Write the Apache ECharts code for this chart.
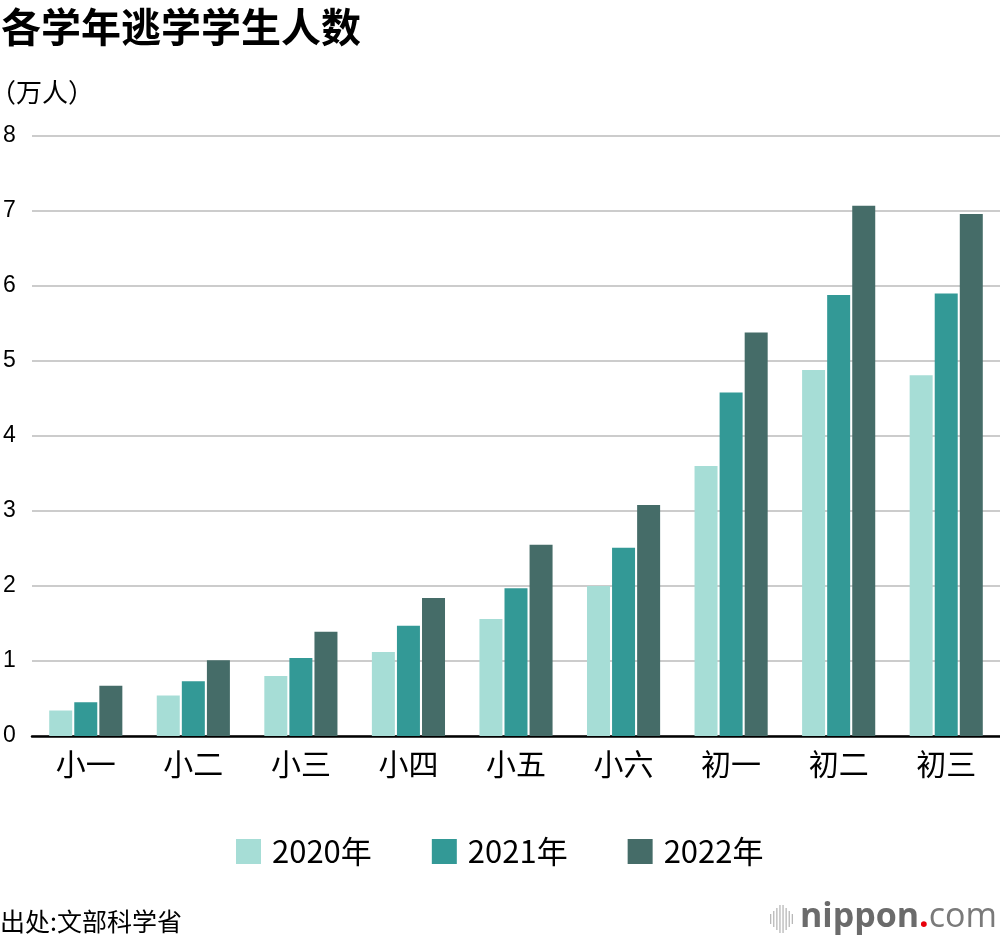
<!DOCTYPE html>
<html><head><meta charset="utf-8">
<script src="https://cdn.jsdelivr.net/npm/echarts@6/dist/echarts.min.js"></script>
<style>html,body{margin:0;padding:0;background:#fff}#c{width:1000px;height:942px}</style>
</head><body><div id="c"></div>
<script>
const categories = ['小一','小二','小三','小四','小五','小六','初一','初二','初三'];
const seriesNames = ['2020年','2021年','2022年'];
const v2020 = [0.34,0.54,0.80,1.12,1.56,2.00,3.60,4.88,4.81];
const v2021 = [0.45,0.73,1.04,1.47,1.97,2.51,4.58,5.88,5.90];
const v2022 = [0.67,1.01,1.39,1.84,2.55,3.08,5.38,7.07,6.96];
const yTicks = [0,1,2,3,4,5,6,7,8];
const colors = ['#a6ddd6','#339996','#456c68'];
const FONT = '"Noto Sans CJK SC","Noto Sans",sans-serif';

const chart = echarts.init(document.getElementById('c'));
const logoLines = [];
const hs = [10,16,22,28,28,22,16,10];
hs.forEach((h,i)=>{
  logoLines.push({type:'rect', left: 770 + i*3.1, top: 919 - h/2, shape:{width:1.3,height:h}, style:{fill:'#b8b8b8'}});
});
chart.setOption({
  animation:false,
  title:[
    {text:'各学年逃学学生人数', left:1, top:7, padding:0, textStyle:{fontFamily:FONT,fontSize:40,fontWeight:'bold',color:'#000'}},
    {text:'（万人）', left:-10, top:79, padding:0, textStyle:{fontFamily:FONT,fontSize:26,fontWeight:'normal',color:'#000'}},
    {text:'出处:文部科学省', left:0, top:909, padding:0, textStyle:{fontFamily:FONT,fontSize:25,fontWeight:'normal',color:'#000'}}
  ],
  legend:{
    data:seriesNames, top:831, left:231, itemWidth:25, itemHeight:25, itemGap:60,
    icon:'rect',
    textStyle:{fontFamily:FONT,fontSize:31,color:'#000',padding:[0,0,0,6]}
  },
  grid:{left:32,right:0,top:136,bottom:206,containLabel:false},
  xAxis:{
    type:'category', data:categories,
    axisLine:{lineStyle:{color:'#000',width:2.5}},
    axisTick:{show:false},
    axisLabel:{fontFamily:FONT,fontSize:30,color:'#000',margin:13}
  },
  yAxis:{
    type:'value', min:0, max:8, interval:1,
    axisLine:{show:false}, axisTick:{show:false},
    axisLabel:{fontFamily:'"Liberation Sans",Arial,sans-serif',fontSize:23,color:'#000',margin:29,align:'left',
      formatter:(v)=> yTicks.includes(v)? String(v):''},
    splitLine:{lineStyle:{color:'#cccccc',width:2}}
  },
  series:[
    {name:seriesNames[0],type:'bar',data:v2020,itemStyle:{color:colors[0]},barGap:'9%',barCategoryGap:'32%'},
    {name:seriesNames[1],type:'bar',data:v2021,itemStyle:{color:colors[1]}},
    {name:seriesNames[2],type:'bar',data:v2022,itemStyle:{color:colors[2]}}
  ],
  graphic: logoLines.concat([
    {type:'text', right:3, top:900, style:{
      text:'{a|nippon}{r|.}{b|com}',
      rich:{
        a:{fontFamily:'"Open Sans",sans-serif',fontSize:34,fontWeight:'bold',fill:'#6b6b6b'},
        r:{fontFamily:'"Open Sans",sans-serif',fontSize:34,fontWeight:'bold',fill:'#e8000b'},
        b:{fontFamily:'"Open Sans",sans-serif',fontSize:34,fontWeight:'normal',fill:'#7a7a7a'}
      }
    }}
  ])
});
</script></body></html>
